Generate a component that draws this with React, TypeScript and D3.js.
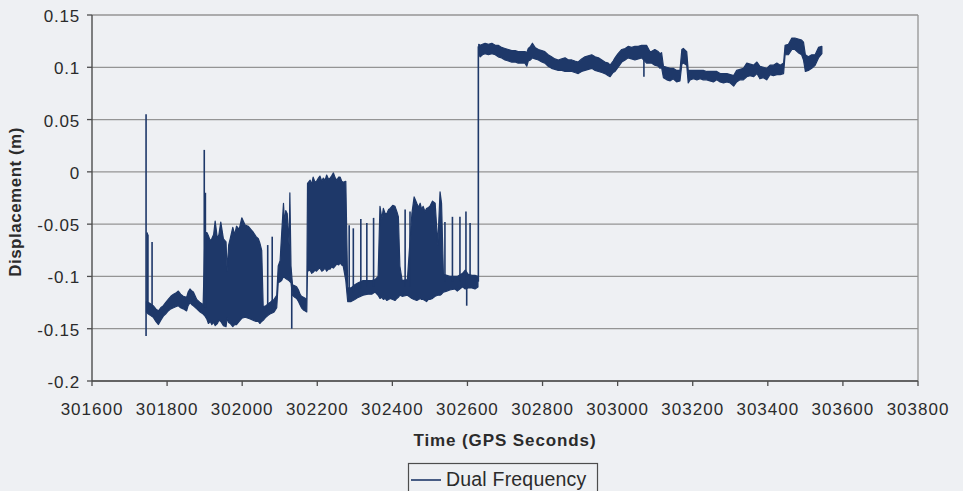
import React from "react";
import * as d3 from "d3";

// ---- axis values ----
const xTickValues = [301600, 301800, 302000, 302200, 302400, 302600, 302800, 303000, 303200, 303400, 303600, 303800];
const yTickValues = [-0.2, -0.15, -0.1, -0.05, 0, 0.05, 0.1, 0.15];
const yTickLabels = ["-0.2", "-0.15", "-0.1", "-0.05", "0", "0.05", "0.1", "0.15"];
const xTitle = "Time (GPS Seconds)";
const yTitle = "Displacement (m)";
const seriesName = "Dual Frequency";

// ---- series envelope: [GPS time, min displacement, max displacement] ----
const envelopeLow: [number, number, number][] = [
  [301745, -0.134, -0.124], [301750, -0.136, -0.125], [301755, -0.137, -0.126], [301759, -0.138, -0.127],
  [301763, -0.139, -0.128], [301770, -0.143, -0.131], [301777, -0.146, -0.133], [301783, -0.142, -0.130],
  [301790, -0.138, -0.128], [301796, -0.136, -0.125], [301803, -0.133, -0.122], [301810, -0.131, -0.119],
  [301817, -0.130, -0.117], [301823, -0.129, -0.116], [301830, -0.128, -0.114], [301836, -0.130, -0.117],
  [301843, -0.131, -0.119], [301852, -0.133, -0.120], [301856, -0.128, -0.115], [301861, -0.125, -0.112],
  [301866, -0.127, -0.114], [301870, -0.128, -0.115], [301879, -0.131, -0.122], [301888, -0.134, -0.125],
  [301896, -0.136, -0.127],
  [301901, -0.138, -0.058], [301906, -0.141, -0.058], [301910, -0.145, -0.061], [301915, -0.143, -0.066],
  [301919, -0.146, -0.064], [301924, -0.144, -0.060], [301928, -0.147, -0.047], [301934, -0.145, -0.064],
  [301938, -0.142, -0.060], [301943, -0.143, -0.048], [301950, -0.147, -0.064], [301957, -0.148, -0.067],
  [301960, -0.140, -0.095], [301964, -0.144, -0.070], [301968, -0.145, -0.064], [301975, -0.148, -0.053],
  [301980, -0.146, -0.060], [301985, -0.146, -0.052], [301992, -0.143, -0.055], [301999, -0.140, -0.044],
  [302008, -0.139, -0.051], [302016, -0.140, -0.052], [302023, -0.141, -0.055], [302030, -0.142, -0.058],
  [302037, -0.143, -0.062], [302043, -0.143, -0.064], [302047, -0.145, -0.068], [302052, -0.143, -0.075],
  [302056, -0.142, -0.129], [302063, -0.139, -0.128], [302070, -0.137, -0.126], [302074, -0.136, -0.125],
  [302080, -0.135, -0.123], [302085, -0.134, -0.122], [302092, -0.130, -0.118], [302096, -0.106, -0.090],
  [302101, -0.105, -0.085], [302105, -0.104, -0.060], [302110, -0.100, -0.030], [302113, -0.101, -0.050],
  [302116, -0.102, -0.037], [302120, -0.103, -0.040], [302125, -0.104, -0.070], [302127, -0.105, -0.020],
  [302130, -0.106, -0.090], [302134, -0.118, -0.108], [302140, -0.120, -0.109], [302145, -0.121, -0.110],
  [302150, -0.124, -0.113], [302154, -0.127, -0.117], [302158, -0.130, -0.119], [302163, -0.132, -0.120],
  [302168, -0.133, -0.121], [302172, -0.134, -0.122],
  [302174, -0.095, -0.011], [302181, -0.094, -0.008], [302185, -0.097, -0.012], [302189, -0.096, -0.005],
  [302194, -0.094, -0.010], [302198, -0.095, -0.009], [302203, -0.093, -0.006], [302207, -0.092, -0.004],
  [302212, -0.095, -0.009], [302216, -0.094, -0.006], [302221, -0.092, -0.008], [302225, -0.095, -0.003],
  [302230, -0.093, -0.007], [302234, -0.093, -0.006], [302238, -0.091, -0.004], [302243, -0.092, -0.001],
  [302248, -0.090, -0.006], [302252, -0.088, -0.008], [302257, -0.089, -0.005], [302261, -0.087, -0.005],
  [302265, -0.089, -0.009], [302269, -0.090, -0.010], [302276, -0.104, -0.009], [302281, -0.124, -0.111],
  [302290, -0.124, -0.111], [302300, -0.122, -0.108], [302309, -0.120, -0.106], [302322, -0.118, -0.104],
  [302335, -0.117, -0.104], [302345, -0.117, -0.104], [302354, -0.115, -0.103], [302362, -0.118, -0.100],
  [302367, -0.121, -0.033], [302372, -0.120, -0.045], [302376, -0.122, -0.035], [302381, -0.121, -0.040],
  [302385, -0.123, -0.040], [302390, -0.122, -0.036], [302394, -0.121, -0.035], [302401, -0.122, -0.032],
  [302407, -0.123, -0.033], [302412, -0.121, -0.038], [302416, -0.120, -0.043], [302420, -0.118, -0.090],
  [302426, -0.119, -0.104], [302440, -0.118, -0.103],
  [302452, -0.121, -0.040], [302458, -0.122, -0.024], [302465, -0.123, -0.030], [302470, -0.122, -0.034],
  [302474, -0.121, -0.030], [302478, -0.122, -0.036], [302482, -0.122, -0.033], [302487, -0.123, -0.038],
  [302491, -0.124, -0.035], [302496, -0.122, -0.034], [302500, -0.122, -0.033], [302507, -0.121, -0.028],
  [302514, -0.119, -0.030], [302521, -0.118, -0.070], [302527, -0.118, -0.019], [302531, -0.117, -0.030],
  [302536, -0.115, -0.098], [302545, -0.114, -0.099], [302553, -0.113, -0.100], [302567, -0.112, -0.100],
  [302573, -0.114, -0.100], [302587, -0.110, -0.097], [302594, -0.112, -0.094], [302602, -0.111, -0.098],
  [302612, -0.111, -0.099], [302620, -0.112, -0.099], [302628, -0.110, -0.100],
];

const envelopeHigh: [number, number, number][] = [
  [302630, 0.112, 0.122], [302634, 0.110, 0.121], [302640, 0.112, 0.122], [302647, 0.113, 0.123],
  [302656, 0.112, 0.122], [302665, 0.113, 0.123], [302674, 0.112, 0.121], [302682, 0.110, 0.121],
  [302691, 0.109, 0.119], [302700, 0.107, 0.118], [302709, 0.106, 0.117], [302718, 0.105, 0.116],
  [302727, 0.105, 0.116], [302735, 0.104, 0.115], [302744, 0.104, 0.115], [302753, 0.104, 0.115],
  [302758, 0.101, 0.114], [302762, 0.106, 0.118], [302768, 0.107, 0.120], [302773, 0.109, 0.123],
  [302780, 0.108, 0.119], [302789, 0.107, 0.117], [302798, 0.105, 0.116], [302806, 0.104, 0.115],
  [302815, 0.101, 0.112], [302824, 0.099, 0.110], [302833, 0.098, 0.108], [302842, 0.097, 0.107],
  [302851, 0.097, 0.108], [302860, 0.096, 0.109], [302869, 0.096, 0.107], [302878, 0.096, 0.107],
  [302886, 0.095, 0.106], [302895, 0.094, 0.105], [302904, 0.096, 0.108], [302913, 0.097, 0.110],
  [302922, 0.098, 0.111], [302931, 0.099, 0.112], [302940, 0.097, 0.110], [302949, 0.096, 0.109],
  [302958, 0.095, 0.107], [302966, 0.094, 0.105], [302975, 0.092, 0.104], [302980, 0.091, 0.102],
  [302988, 0.095, 0.106], [302993, 0.096, 0.109], [303001, 0.100, 0.113], [303011, 0.105, 0.117],
  [303020, 0.107, 0.118], [303028, 0.109, 0.120], [303037, 0.108, 0.119], [303046, 0.107, 0.120],
  [303055, 0.108, 0.120], [303064, 0.109, 0.121], [303077, 0.104, 0.121], [303086, 0.104, 0.115],
  [303090, 0.104, 0.115], [303099, 0.102, 0.117], [303108, 0.101, 0.115], [303113, 0.099, 0.113],
  [303117, 0.100, 0.114], [303122, 0.090, 0.101], [303131, 0.088, 0.100], [303140, 0.087, 0.099],
  [303148, 0.089, 0.099], [303157, 0.086, 0.097], [303166, 0.087, 0.097], [303171, 0.103, 0.117],
  [303175, 0.104, 0.118], [303184, 0.102, 0.115], [303188, 0.085, 0.097], [303193, 0.088, 0.097],
  [303202, 0.089, 0.097], [303211, 0.088, 0.097], [303220, 0.089, 0.097], [303228, 0.088, 0.097],
  [303237, 0.088, 0.096], [303246, 0.087, 0.096], [303255, 0.086, 0.096], [303264, 0.088, 0.096],
  [303273, 0.086, 0.094], [303282, 0.085, 0.094], [303291, 0.086, 0.094], [303300, 0.085, 0.093],
  [303309, 0.082, 0.092], [303317, 0.086, 0.097], [303326, 0.088, 0.098], [303335, 0.088, 0.099],
  [303344, 0.091, 0.104], [303353, 0.092, 0.103], [303362, 0.091, 0.102], [303371, 0.094, 0.105],
  [303379, 0.089, 0.101], [303388, 0.090, 0.100], [303397, 0.088, 0.099], [303406, 0.093, 0.102],
  [303415, 0.092, 0.102], [303424, 0.093, 0.104], [303433, 0.093, 0.102], [303442, 0.094, 0.104],
  [303446, 0.112, 0.121], [303455, 0.112, 0.122], [303464, 0.117, 0.128], [303472, 0.117, 0.128],
  [303481, 0.114, 0.127], [303490, 0.112, 0.126], [303495, 0.107, 0.124], [303500, 0.096, 0.112],
  [303508, 0.097, 0.110], [303517, 0.099, 0.112], [303526, 0.102, 0.112], [303535, 0.109, 0.119],
  [303544, 0.113, 0.120],
];

// isolated single-epoch excursions: [GPS time, from, to]
const spikes: [number, number, number][] = [
  [301744, -0.157, 0.055], [301747, -0.132, -0.058], [301749, -0.132, -0.060], [301760, -0.130, -0.067],
  [301899, -0.130, 0.021], [301902, -0.130, -0.020], [302068, -0.130, -0.070], [302080, -0.128, -0.062],
  [302132, -0.105, -0.150], [302285, -0.115, -0.051], [302296, -0.115, -0.054], [302316, -0.112, -0.045],
  [302332, -0.110, -0.049], [302350, -0.110, -0.044], [302434, -0.110, -0.036], [302447, -0.110, -0.038],
  [302540, -0.105, -0.048], [302560, -0.105, -0.043], [302580, -0.105, -0.043], [302596, -0.100, -0.038],
  [302598, -0.100, -0.128], [302607, -0.102, -0.049], [302629, -0.105, 0.120], [303070, 0.110, 0.091],
];

const W = 963;
const H = 491;
const plot = { left: 92, right: 918, top: 15, bottom: 381 };
const BG = "#eef0f3";
const LINE = "#1e3869";
const GRID = "#949494";
const AXIS = "#4d4d4d";
const TEXT = "#2b2b2b";
const FONT = "'Liberation Sans', Arial, sans-serif";

export default function App() {
  const x = d3.scaleLinear().domain([301600, 303800]).range([plot.left, plot.right]);
  const y = d3.scaleLinear().domain([-0.2, 0.15]).range([plot.bottom, plot.top]);

  const area = d3
    .area<[number, number, number]>()
    .x((d) => x(d[0]))
    .y0((d) => y(d[1]))
    .y1((d) => y(d[2]))
    .curve(d3.curveLinear);

  return (
    <svg
      width={W}
      height={H}
      style={{ position: "fixed", left: 0, top: 0, background: BG }}
      fontFamily={FONT}
    >
      <rect x={0} y={0} width={W} height={H} fill={BG} />
      {/* gridlines */}
      {yTickValues.map((v) => (
        <line key={"g" + v} x1={plot.left} x2={plot.right} y1={y(v)} y2={y(v)} stroke={GRID} strokeWidth={1.3} />
      ))}
      {/* right border */}
      <line x1={plot.right} x2={plot.right} y1={plot.top} y2={plot.bottom} stroke={GRID} strokeWidth={1.3} />

      {/* data */}
      <g>
        <path d={area(envelopeLow) || ""} fill={LINE} stroke={LINE} strokeWidth={1.2} strokeLinejoin="round" />
        <path d={area(envelopeHigh) || ""} fill={LINE} stroke={LINE} strokeWidth={1.2} strokeLinejoin="round" />
        {spikes.map((s, i) => (
          <line key={"s" + i} x1={x(s[0])} x2={x(s[0])} y1={y(s[1])} y2={y(s[2])} stroke={LINE} strokeWidth={1.6} />
        ))}
      </g>

      {/* axes */}
      <line x1={plot.left} x2={plot.left} y1={plot.top} y2={plot.bottom} stroke={AXIS} strokeWidth={1.4} />
      <line x1={plot.left} x2={plot.right} y1={plot.bottom} y2={plot.bottom} stroke={AXIS} strokeWidth={1.4} />
      {yTickValues.map((v, i) => (
        <g key={"yt" + v}>
          <line x1={plot.left - 5} x2={plot.left} y1={y(v)} y2={y(v)} stroke={AXIS} strokeWidth={1.3} />
          <text x={80} y={y(v) + 7} textAnchor="end" fontSize={17} fill={TEXT} letterSpacing={0.8}>
            {yTickLabels[i]}
          </text>
        </g>
      ))}
      {xTickValues.map((v) => (
        <g key={"xt" + v}>
          <line x1={x(v)} x2={x(v)} y1={plot.bottom} y2={plot.bottom + 5} stroke={AXIS} strokeWidth={1.3} />
          <text x={x(v)} y={415} textAnchor="middle" fontSize={17} fill={TEXT} letterSpacing={1}>
            {String(v)}
          </text>
        </g>
      ))}

      {/* axis titles */}
      <text x={(plot.left + plot.right) / 2} y={446} textAnchor="middle" fontSize={17} fontWeight="bold" fill={TEXT} letterSpacing={0.9}>
        {xTitle}
      </text>
      <text
        transform={`translate(21, ${(plot.top + plot.bottom) / 2 + 4}) rotate(-90)`}
        textAnchor="middle"
        fontSize={17}
        fontWeight="bold"
        fill={TEXT}
        letterSpacing={0.5}
      >
        {yTitle}
      </text>

      {/* legend */}
      <rect x={408.5} y={463.5} width={189} height={40} fill="none" stroke={AXIS} strokeWidth={1.2} />
      <line x1={411} x2={441} y1={480} y2={480} stroke={LINE} strokeWidth={1.6} />
      <text x={446} y={486} fontSize={19.5} fill={TEXT} letterSpacing={0.2}>
        {seriesName}
      </text>
    </svg>
  );
}
